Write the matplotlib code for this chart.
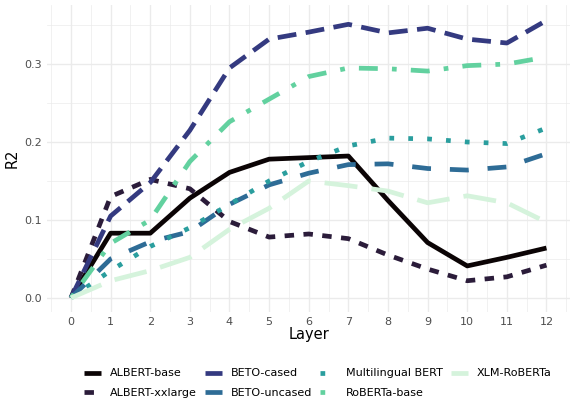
import matplotlib
matplotlib.use("Agg")
import matplotlib.pyplot as plt
from matplotlib.ticker import MultipleLocator

layers = list(range(13))
models = ["ALBERT-base", "ALBERT-xxlarge", "BETO-cased", "BETO-uncased",
          "Multilingual BERT", "RoBERTa-base", "XLM-RoBERTa"]

albert_base = [0.0, 0.083, 0.083, 0.128, 0.161, 0.178, 0.180, 0.182, 0.125, 0.071, 0.041, 0.052, 0.064]
albert_xxlarge = [0.0, 0.130, 0.152, 0.140, 0.098, 0.078, 0.082, 0.076, 0.055, 0.037, 0.022, 0.027, 0.042]
beto_cased = [0.0, 0.105, 0.148, 0.215, 0.295, 0.332, 0.341, 0.351, 0.340, 0.346, 0.332, 0.327, 0.356]
beto_uncased = [0.0, 0.050, 0.072, 0.085, 0.120, 0.145, 0.160, 0.171, 0.172, 0.166, 0.164, 0.168, 0.185]
mbert = [0.0, 0.035, 0.066, 0.090, 0.120, 0.150, 0.175, 0.195, 0.205, 0.204, 0.200, 0.198, 0.218]
roberta_base = [0.0, 0.070, 0.100, 0.175, 0.226, 0.255, 0.284, 0.295, 0.294, 0.291, 0.298, 0.300, 0.309]
xlm_roberta = [0.0, 0.022, 0.035, 0.052, 0.088, 0.115, 0.150, 0.144, 0.137, 0.122, 0.131, 0.122, 0.097]

series = [albert_base, albert_xxlarge, beto_cased, beto_uncased, mbert, roberta_base, xlm_roberta]
colors = ["#0B0405", "#2B1C3A", "#343A80", "#2E6C96", "#2A9E9E", "#62D19F", "#D5F3DC"]
dashes = [None, (2, 2), (4, 2), (4, 4), (1, 3), (1, 3, 4, 3), (7, 3)]

fig = plt.figure(figsize=(5.76, 4.03), dpi=100)
ax = fig.add_axes([0.082, 0.226, 0.908, 0.762])

for name, vals, c, d in zip(models, series, colors, dashes):
    kw = dict(color=c, lw=3.4, label=name, solid_capstyle="butt", dash_capstyle="butt")
    if d is None:
        ax.plot(layers, vals, ls="-", **kw)
    else:
        ax.plot(layers, vals, dashes=d, **kw)

ax.set_xlim(-0.6, 12.6)
ax.set_ylim(-0.018, 0.376)
ax.set_xticks(layers)
ax.xaxis.set_minor_locator(MultipleLocator(0.5))
ax.yaxis.set_major_locator(MultipleLocator(0.1))
ax.yaxis.set_minor_locator(MultipleLocator(0.05))
ax.yaxis.set_major_formatter(matplotlib.ticker.FormatStrFormatter("%.1f"))
ax.grid(which="major", color="#EBEBEB", lw=1.0)
ax.grid(which="minor", color="#EBEBEB", lw=0.5)
ax.set_axisbelow(True)
for s in ax.spines.values():
    s.set_visible(False)
ax.tick_params(which="both", length=0, labelsize=8, labelcolor="#4D4D4D", pad=4)
ax.set_xlabel("Layer", fontsize=10.5, labelpad=0)
ax.set_ylabel("R2", fontsize=10.5, labelpad=3)

leg = fig.legend(loc="lower center", bbox_to_anchor=(0.552, -0.012), ncol=4, frameon=False,
                 fontsize=8, handlelength=1.5, columnspacing=0.75, handletextpad=0.8,
                 labelspacing=0.85)

fig.savefig("out.png", dpi=100)
